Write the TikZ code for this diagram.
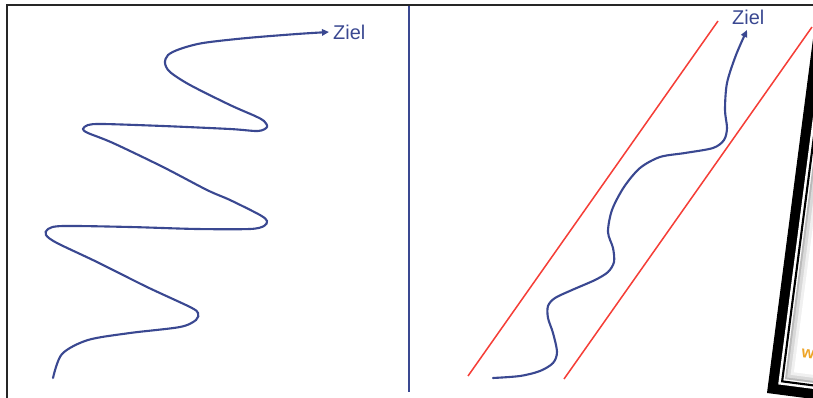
\documentclass[tikz,border=0pt]{standalone}
\usepackage{fontspec}
\setmainfont{Liberation Sans}
\usetikzlibrary{arrows.meta}
\definecolor{routeblue}{RGB}{58,72,145}
\definecolor{lanered}{RGB}{245,62,55}
\definecolor{tagorange}{RGB}{238,165,40}

\begin{document}
\begin{tikzpicture}[x=0.03cm,y=-0.03cm,
  route/.style={routeblue,line width=1.8pt,line cap=round},
  lane/.style={lanered,line width=1.3pt},
  goal/.style={routeblue,font=\fontsize{17}{19}\selectfont,inner sep=0pt,anchor=west},
  tip/.style={-{Triangle[length=6pt,width=5.5pt]}}]
\useasboundingbox (0,0) rectangle (813,398);
% ---------------- left panel: winding route ----------------
\coordinate (startL) at (53,378);
\node[goal] (zielL) at (333,32.5) {Ziel};
\draw[route,tip,smooth,tension=0.5] plot coordinates {
  (53,378) (62,354) (88,340) (130,333) (180,327) (196,320) (198,313) (190,307)
  (147,287) (97,262) (57,243) (46,235) (48,229) (63,226) (130,227) (197,229)
  (250,229) (264,226) (267,221) (260,215) (230,200) (207,190) (163,167)
  (113,143) (88,133) (83,129) (88,125) (103,124) (163,126) (230,129) (258,131)
  (267,127) (264,121) (255,116) (230,105) (190,85) (170,72) (165,63) (168,55)
  (180,49) (203,43) (247,38) (297,34) (329,32)};
% separator
\coordinate (sepT) at (409,5);
\coordinate (sepB) at (409,392);
\draw[routeblue,line width=1.4pt] (sepT) -- (sepB);
% ---------------- right panel: route inside the corridor ----------------
\draw[lane] (468,376) -- (718,21);
\draw[lane] (564,379) -- (812,27);
\node[goal] (zielR) at (732,17) {Ziel};
\draw[route,tip,smooth,tension=0.5] plot coordinates {
  (493,378) (520,376) (540,371) (553,363) (557,352) (553,333) (548,318)
  (548,306) (555,298) (572,290) (595,280) (608,272) (614,262) (613,248)
  (608,232) (612,210) (624,187) (640,168) (660,157) (685,153) (713,148)
  (724,140) (727,128) (725,110) (727,83) (736,55) (747,30)};
% ---------------- tilted frame at the right edge ----------------
\begin{scope}
  \clip (0,0) rectangle (813,398);
  \begin{scope}[shift={(767,393)},rotate=-7.4]
    \fill[black] (0,0) rectangle (200,-420);
    \fill[white] (10,-10) rectangle (200,-420);
    \draw[black,line width=1.8pt] (13.5,-420) -- (13.5,-13.5) -- (200,-13.5);
    \fill[gray!55] (16,-16) rectangle (200,-420);
    \fill[gray!30] (18,-18) rectangle (200,-420);
    \fill[gray!12] (21,-21) rectangle (200,-420);
    \fill[white] (24,-24) rectangle (200,-420);
  \end{scope}
  \node[tagorange,font=\bfseries\fontsize{14}{16}\selectfont,inner sep=0pt,
    anchor=base west,rotate=-7.4] (tagw) at (801,357) {w};
\end{scope}
% outer border
\draw[black!85,line width=2pt] (7,398) -- (7,5) -- (813,5);
\end{tikzpicture}
\end{document}
